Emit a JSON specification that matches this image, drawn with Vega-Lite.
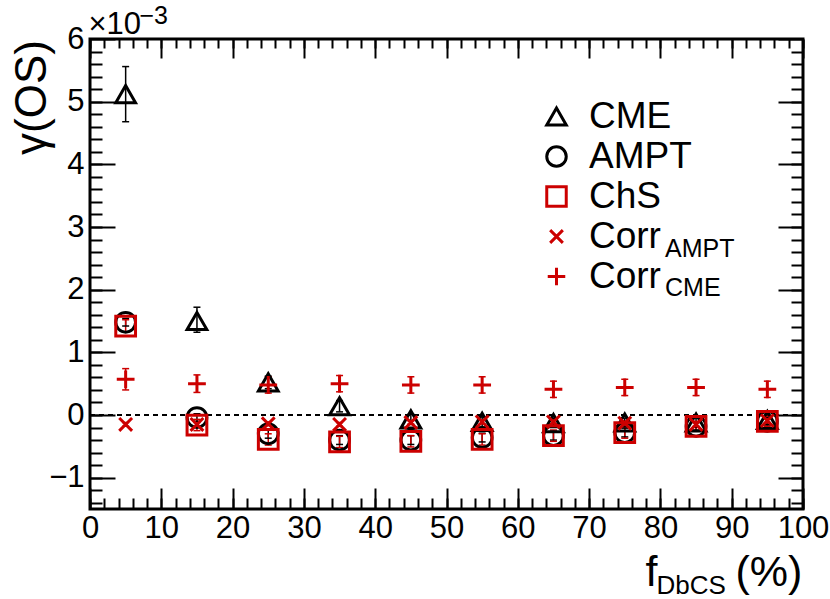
{
  "$schema": "https://vega.github.io/schema/vega-lite/v6.json",
  "width": 713,
  "height": 470,
  "autosize": "none",
  "padding": {"left": 90, "top": 39, "right": 27, "bottom": 90},
  "background": "white",
  "config": {
    "font": "Liberation Sans",
    "view": {"stroke": "black", "strokeWidth": 3},
    "axis": {
      "domain": false,
      "grid": false,
      "tickColor": "black",
      "tickWidth": 2,
      "labelColor": "black",
      "titleColor": "black",
      "titleFontWeight": "normal",
      "labelFont": "Liberation Sans",
      "titleFont": "Liberation Sans",
      "labelFlush": false,
      "labelOverlap": false
    }
  },
  "data": {
    "values": [
      {"f": 5, "series": "CME", "gamma": 5.12, "lo": 4.68, "hi": 5.56},
      {"f": 15, "series": "CME", "gamma": 1.50, "lo": 1.32, "hi": 1.72},
      {"f": 25, "series": "CME", "gamma": 0.52, "lo": 0.42, "hi": 0.62},
      {"f": 35, "series": "CME", "gamma": 0.14, "lo": 0.05, "hi": 0.23},
      {"f": 45, "series": "CME", "gamma": -0.07, "lo": -0.15, "hi": 0.01},
      {"f": 55, "series": "CME", "gamma": -0.11, "lo": -0.19, "hi": -0.03},
      {"f": 65, "series": "CME", "gamma": -0.13, "lo": -0.20, "hi": -0.06},
      {"f": 75, "series": "CME", "gamma": -0.12, "lo": -0.19, "hi": -0.05},
      {"f": 85, "series": "CME", "gamma": -0.12, "lo": -0.19, "hi": -0.05},
      {"f": 95, "series": "CME", "gamma": -0.08, "lo": -0.15, "hi": -0.01},
      {"f": 5, "series": "AMPT", "gamma": 1.48, "lo": 1.42, "hi": 1.54},
      {"f": 15, "series": "AMPT", "gamma": -0.04, "lo": -0.10, "hi": 0.02},
      {"f": 25, "series": "AMPT", "gamma": -0.30, "lo": -0.37, "hi": -0.23},
      {"f": 35, "series": "AMPT", "gamma": -0.40, "lo": -0.47, "hi": -0.33},
      {"f": 45, "series": "AMPT", "gamma": -0.40, "lo": -0.47, "hi": -0.33},
      {"f": 55, "series": "AMPT", "gamma": -0.36, "lo": -0.43, "hi": -0.29},
      {"f": 65, "series": "AMPT", "gamma": -0.33, "lo": -0.40, "hi": -0.26},
      {"f": 75, "series": "AMPT", "gamma": -0.28, "lo": -0.35, "hi": -0.21},
      {"f": 85, "series": "AMPT", "gamma": -0.18, "lo": -0.24, "hi": -0.12},
      {"f": 95, "series": "AMPT", "gamma": -0.10, "lo": -0.16, "hi": -0.04},
      {"f": 5, "series": "ChS", "gamma": 1.42, "lo": 1.32, "hi": 1.52},
      {"f": 15, "series": "ChS", "gamma": -0.16, "lo": -0.25, "hi": -0.07},
      {"f": 25, "series": "ChS", "gamma": -0.39, "lo": -0.48, "hi": -0.30},
      {"f": 35, "series": "ChS", "gamma": -0.43, "lo": -0.52, "hi": -0.34},
      {"f": 45, "series": "ChS", "gamma": -0.42, "lo": -0.51, "hi": -0.33},
      {"f": 55, "series": "ChS", "gamma": -0.39, "lo": -0.48, "hi": -0.30},
      {"f": 65, "series": "ChS", "gamma": -0.33, "lo": -0.42, "hi": -0.24},
      {"f": 75, "series": "ChS", "gamma": -0.28, "lo": -0.37, "hi": -0.19},
      {"f": 85, "series": "ChS", "gamma": -0.18, "lo": -0.26, "hi": -0.10},
      {"f": 95, "series": "ChS", "gamma": -0.10, "lo": -0.18, "hi": -0.02},
      {"f": 5, "series": "Corr_AMPT", "gamma": -0.15, "lo": -0.18, "hi": -0.12},
      {"f": 15, "series": "Corr_AMPT", "gamma": -0.15, "lo": -0.18, "hi": -0.12},
      {"f": 25, "series": "Corr_AMPT", "gamma": -0.14, "lo": -0.17, "hi": -0.11},
      {"f": 35, "series": "Corr_AMPT", "gamma": -0.15, "lo": -0.18, "hi": -0.12},
      {"f": 45, "series": "Corr_AMPT", "gamma": -0.12, "lo": -0.15, "hi": -0.09},
      {"f": 55, "series": "Corr_AMPT", "gamma": -0.11, "lo": -0.14, "hi": -0.08},
      {"f": 65, "series": "Corr_AMPT", "gamma": -0.11, "lo": -0.14, "hi": -0.08},
      {"f": 75, "series": "Corr_AMPT", "gamma": -0.13, "lo": -0.16, "hi": -0.10},
      {"f": 85, "series": "Corr_AMPT", "gamma": -0.15, "lo": -0.18, "hi": -0.12},
      {"f": 95, "series": "Corr_AMPT", "gamma": -0.09, "lo": -0.12, "hi": -0.06},
      {"f": 5, "series": "Corr_CME", "gamma": 0.57, "lo": 0.40, "hi": 0.74},
      {"f": 15, "series": "Corr_CME", "gamma": 0.50, "lo": 0.36, "hi": 0.64},
      {"f": 25, "series": "Corr_CME", "gamma": 0.48, "lo": 0.35, "hi": 0.61},
      {"f": 35, "series": "Corr_CME", "gamma": 0.50, "lo": 0.37, "hi": 0.63},
      {"f": 45, "series": "Corr_CME", "gamma": 0.48, "lo": 0.35, "hi": 0.61},
      {"f": 55, "series": "Corr_CME", "gamma": 0.48, "lo": 0.35, "hi": 0.61},
      {"f": 65, "series": "Corr_CME", "gamma": 0.41, "lo": 0.28, "hi": 0.54},
      {"f": 75, "series": "Corr_CME", "gamma": 0.44, "lo": 0.31, "hi": 0.57},
      {"f": 85, "series": "Corr_CME", "gamma": 0.44, "lo": 0.31, "hi": 0.57},
      {"f": 95, "series": "Corr_CME", "gamma": 0.41, "lo": 0.28, "hi": 0.54}
    ]
  },
  "layer": [
    {
      "data": {"values": [{}]},
      "mark": {"type": "rule", "strokeDash": [5, 4], "strokeWidth": 2, "color": "black"},
      "encoding": {
        "x": {
          "datum": 0, "type": "quantitative",
          "scale": {"domain": [0, 100], "nice": false, "zero": false},
          "axis": {
            "orient": "top", "values": [0, 10, 20, 30, 40, 50, 60, 70, 80, 90, 100],
            "tickSize": -19, "labels": false,
            "title": "(%)", "titleFontSize": 43, "titleAlign": "left", "titleBaseline": "alphabetic",
            "titleX": 645, "titleY": 546
          }
        },
        "x2": {"datum": 100},
        "y": {
          "datum": 0, "type": "quantitative",
          "scale": {"domain": [-1.5, 6], "nice": false, "zero": false},
          "axis": {
            "orient": "right", "values": [-1, 0, 1, 2, 3, 4, 5, 6],
            "tickSize": -25, "labels": false,
            "title": "−3", "titleAngle": 0, "titleFontSize": 25, "titleAlign": "left", "titleBaseline": "alphabetic",
            "titleX": -664, "titleY": -16
          }
        }
      }
    },
    {
      "mark": {"type": "rule", "strokeWidth": 1.5},
      "encoding": {
        "x": {
          "field": "f", "type": "quantitative",
          "axis": {
            "orient": "bottom", "values": [0, 10, 20, 30, 40, 50, 60, 70, 80, 90, 100],
            "tickSize": -21, "labelPadding": 25, "labelFontSize": 31,
            "title": "f", "titleFontSize": 43, "titleAlign": "left", "titleBaseline": "alphabetic",
            "titleX": 555, "titleY": 76
          }
        },
        "y": {
          "field": "lo", "type": "quantitative",
          "axis": {
            "orient": "left", "values": [-1, 0, 1, 2, 3, 4, 5, 6],
            "tickSize": -25, "labelPadding": 31, "labelFontSize": 31,
            "title": "γ(OS)", "titleFontSize": 44, "titleAngle": -90, "titleAlign": "center", "titleBaseline": "middle",
            "titleX": -58, "titleY": 58
          }
        },
        "y2": {"field": "hi"},
        "stroke": {
          "field": "series", "type": "nominal", "legend": null,
          "scale": {
            "domain": ["CME", "AMPT", "ChS", "Corr_AMPT", "Corr_CME", "-"],
            "range": ["#000000", "#000000", "#cc0000", "#cc0000", "#cc0000", "#cc0000"]
          }
        }
      }
    },
    {
      "mark": {"type": "tick", "orient": "horizontal", "size": 7, "thickness": 1.5, "opacity": 1},
      "encoding": {
        "x": {"field": "f", "type": "quantitative", "axis": null},
        "y": {"field": "hi", "type": "quantitative", "axis": null},
        "fill": {
          "field": "series", "type": "nominal", "legend": null,
          "scale": {
            "domain": ["CME", "AMPT", "ChS", "Corr_AMPT", "Corr_CME", "-"],
            "range": ["#000000", "#000000", "#cc0000", "#cc0000", "#cc0000", "#cc0000"]
          }
        }
      }
    },
    {
      "mark": {"type": "tick", "orient": "horizontal", "size": 7, "thickness": 1.5, "opacity": 1},
      "encoding": {
        "x": {"field": "f", "type": "quantitative", "axis": null},
        "y": {"field": "lo", "type": "quantitative", "axis": null},
        "fill": {
          "field": "series", "type": "nominal", "legend": null,
          "scale": {
            "domain": ["CME", "AMPT", "ChS", "Corr_AMPT", "Corr_CME", "-"],
            "range": ["#000000", "#000000", "#cc0000", "#cc0000", "#cc0000", "#cc0000"]
          }
        }
      }
    },
    {
      "mark": {"type": "point", "filled": false, "strokeWidth": 3, "size": 390, "opacity": 1},
      "encoding": {
        "x": {
          "field": "f", "type": "quantitative",
          "axis": {
            "orient": "bottom", "values": [0, 2, 4, 6, 8, 10, 12, 14, 16, 18, 20, 22, 24, 26, 28, 30, 32, 34, 36, 38, 40, 42, 44, 46, 48, 50, 52, 54, 56, 58, 60, 62, 64, 66, 68, 70, 72, 74, 76, 78, 80, 82, 84, 86, 88, 90, 92, 94, 96, 98, 100],
            "tickSize": -11, "labels": false,
            "title": "DbCS", "titleFontSize": 26, "titleAlign": "left", "titleBaseline": "alphabetic",
            "titleX": 566, "titleY": 84
          }
        },
        "y": {
          "field": "gamma", "type": "quantitative",
          "axis": {
            "orient": "left", "values": [-1.4, -1.2, -1, -0.8, -0.6, -0.4, -0.2, 0, 0.2, 0.4, 0.6, 0.8, 1, 1.2, 1.4, 1.6, 1.8, 2, 2.2, 2.4, 2.6, 2.8, 3, 3.2, 3.4, 3.6, 3.8, 4, 4.2, 4.4, 4.6, 4.8, 5, 5.2, 5.4, 5.6, 5.8],
            "tickSize": -12, "labels": false,
            "title": "×10", "titleAngle": 0, "titleFontSize": 31, "titleAlign": "left", "titleBaseline": "alphabetic",
            "titleX": -2, "titleY": -6
          }
        },
        "color": {
          "field": "series", "type": "nominal",
          "scale": {
            "domain": ["CME", "AMPT", "ChS", "Corr_AMPT", "Corr_CME"],
            "range": ["#000000", "#000000", "#cc0000", "#cc0000", "#cc0000"]
          },
          "legend": {
            "orient": "none", "legendX": 448, "legendY": 59, "title": null, "padding": 0,
            "labelFontSize": 37, "labelColor": "black", "labelOffset": 14,
            "symbolSize": 380, "symbolStrokeWidth": 3, "clipHeight": 37, "rowPadding": 2,
            "labelExpr": "indexof(datum.label, 'Corr') == 0 ? 'Corr' : datum.label"
          }
        },
        "shape": {
          "field": "series", "type": "nominal",
          "scale": {
            "domain": ["CME", "AMPT", "ChS", "Corr_AMPT", "Corr_CME"],
            "range": ["triangle-up", "circle", "square", "M-0.65,-0.65L0.65,0.65M-0.65,0.65L0.65,-0.65", "M-0.9,0L0.9,0M0,-0.9L0,0.9"]
          },
          "legend": {
            "orient": "none", "legendX": 448, "legendY": 59, "title": null, "padding": 0,
            "labelFontSize": 37, "labelColor": "black", "labelOffset": 14,
            "symbolSize": 380, "symbolStrokeWidth": 3, "clipHeight": 37, "rowPadding": 2,
            "labelExpr": "indexof(datum.label, 'Corr') == 0 ? 'Corr' : datum.label"
          }
        }
      }
    },
    {
      "data": {"values": [{"key": "CME"}, {"key": "AMPT"}, {"key": "ChS"}, {"key": "Corr_AMPT"}, {"key": "Corr_CME"}]},
      "mark": {"type": "point", "filled": false, "size": 4},
      "encoding": {
        "x": {
          "datum": 0, "type": "quantitative",
          "axis": {
            "orient": "top", "values": [0, 2, 4, 6, 8, 10, 12, 14, 16, 18, 20, 22, 24, 26, 28, 30, 32, 34, 36, 38, 40, 42, 44, 46, 48, 50, 52, 54, 56, 58, 60, 62, 64, 66, 68, 70, 72, 74, 76, 78, 80, 82, 84, 86, 88, 90, 92, 94, 96, 98, 100],
            "tickSize": -9, "labels": false, "title": null
          }
        },
        "y": {
          "datum": 0, "type": "quantitative",
          "axis": {
            "orient": "right", "values": [-1.4, -1.2, -1, -0.8, -0.6, -0.4, -0.2, 0, 0.2, 0.4, 0.6, 0.8, 1, 1.2, 1.4, 1.6, 1.8, 2, 2.2, 2.4, 2.6, 2.8, 3, 3.2, 3.4, 3.6, 3.8, 4, 4.2, 4.4, 4.6, 4.8, 5, 5.2, 5.4, 5.6, 5.8],
            "tickSize": -12, "labels": false, "title": null
          }
        },
        "opacity": {
          "field": "key", "type": "nominal",
          "scale": {
            "domain": ["CME", "AMPT", "ChS", "Corr_AMPT", "Corr_CME", ""],
            "range": [0, 0, 0, 0, 0, 0]
          },
          "legend": {
            "orient": "none", "legendX": 550, "legendY": 113, "title": null, "padding": 0,
            "labelFontSize": 25, "labelColor": "black", "labelOffset": 0,
            "symbolSize": 4, "clipHeight": 37, "rowPadding": 2,
            "labelExpr": "datum.label == 'Corr_AMPT' ? 'AMPT' : datum.label == 'Corr_CME' ? 'CME' : ''"
          }
        }
      }
    }
  ],
  "resolve": {"axis": {"x": "independent", "y": "independent"}}
}
